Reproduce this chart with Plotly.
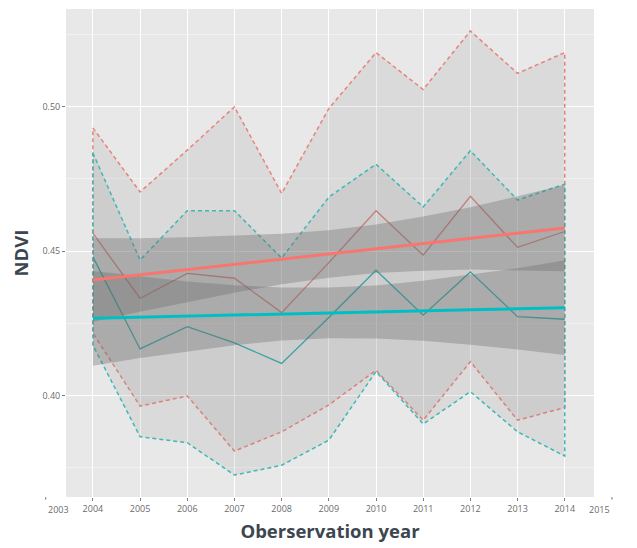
import plotly.graph_objects as go

years = [2004, 2005, 2006, 2007, 2008, 2009, 2010, 2011, 2012, 2013, 2014]

red_upper = [0.4927, 0.4705, 0.4850, 0.5000, 0.4700, 0.4994, 0.5188, 0.5060, 0.5263, 0.5116, 0.5188]
red_lower = [0.4216, 0.3963, 0.3998, 0.3807, 0.3874, 0.3967, 0.4087, 0.3914, 0.4117, 0.3914, 0.3958]
red_mean = [0.4562, 0.4336, 0.4423, 0.4406, 0.4287, 0.4460, 0.4640, 0.4486, 0.4690, 0.4513, 0.4568]

teal_upper = [0.4840, 0.4469, 0.4640, 0.4640, 0.4476, 0.4687, 0.4801, 0.4653, 0.4848, 0.4677, 0.4732]
teal_lower = [0.4174, 0.3857, 0.3836, 0.3724, 0.3758, 0.3845, 0.4083, 0.3901, 0.4013, 0.3874, 0.3790]
teal_mean = [0.4480, 0.4161, 0.4238, 0.4182, 0.4111, 0.4270, 0.4434, 0.4278, 0.4428, 0.4273, 0.4264]

red_fit = [0.4400, 0.4418, 0.4436, 0.4454, 0.4472, 0.4490, 0.4508, 0.4526, 0.4544, 0.4562, 0.4580]
red_ci_up = [0.4545, 0.4545, 0.4548, 0.4553, 0.4560, 0.4572, 0.4592, 0.4620, 0.4652, 0.4690, 0.4730]
red_ci_lo = [0.4255, 0.4290, 0.4324, 0.4356, 0.4385, 0.4408, 0.4424, 0.4432, 0.4436, 0.4434, 0.4430]

teal_fit = [0.4267, 0.4271, 0.4274, 0.4278, 0.4282, 0.4286, 0.4289, 0.4293, 0.4297, 0.4300, 0.4304]
teal_ci_up = [0.4431, 0.4412, 0.4395, 0.4382, 0.4374, 0.4374, 0.4381, 0.4397, 0.4418, 0.4441, 0.4468]
teal_ci_lo = [0.4103, 0.4130, 0.4153, 0.4174, 0.4190, 0.4198, 0.4197, 0.4189, 0.4176, 0.4159, 0.4140]

y_ticks = [0.40, 0.45, 0.50]
y_tick_labels = ["0.40", "0.45", "0.50"]
x_extra_ticks = [2003, 2015]

x_range = [2003.43, 2014.62]
y_range = [0.3648, 0.5339]

RED = "#F8766D"
TEAL = "#00BFC4"
RED_DASH = "#E8827C"
TEAL_DASH = "#3DB9B5"
RED_MEAN = "#C27F7B"
TEAL_MEAN = "#3AA3A2"

fig = go.Figure()


def ribbon(up, lo, color):
    xs = years + years[::-1] + [years[0]]
    ys = up + lo[::-1] + [up[0]]
    fig.add_trace(go.Scatter(
        x=xs, y=ys, mode="lines", fill="toself",
        fillcolor="rgba(120,120,120,0.13)",
        line=dict(color=color, width=1.5, dash="4px,3px"),
        hoverinfo="skip", showlegend=False))


ribbon(red_upper, red_lower, RED_DASH)
ribbon(teal_upper, teal_lower, TEAL_DASH)

fig.add_trace(go.Scatter(x=years, y=red_mean, mode="lines",
                         line=dict(color=RED_MEAN, width=1.3), showlegend=False))
fig.add_trace(go.Scatter(x=years, y=teal_mean, mode="lines",
                         line=dict(color=TEAL_MEAN, width=1.3), showlegend=False))


def ci(up, lo):
    xs = years + years[::-1]
    ys = up + lo[::-1]
    fig.add_trace(go.Scatter(
        x=xs, y=ys, mode="lines", fill="toself",
        fillcolor="rgba(105,105,105,0.34)", line=dict(width=0),
        hoverinfo="skip", showlegend=False))


ci(red_ci_up, red_ci_lo)
ci(teal_ci_up, teal_ci_lo)

fig.add_trace(go.Scatter(x=years, y=red_fit, mode="lines",
                         line=dict(color=RED, width=3), showlegend=False))
fig.add_trace(go.Scatter(x=years, y=teal_fit, mode="lines",
                         line=dict(color=TEAL, width=3), showlegend=False))

tick_font = dict(family="Open Sans, DejaVu Sans, sans-serif", size=9, color="#6b6b6b")
title_font = dict(family="Open Sans, DejaVu Sans, sans-serif", size=18.5, color="#3b4650")

# the page body adds an 8px offset, margins compensate for it
fig.update_layout(
    width=637, height=548,
    margin=dict(l=58, r=51, t=1, b=59),
    paper_bgcolor="white",
    plot_bgcolor="#E8E8E8",
    showlegend=False,
    xaxis=dict(
        range=x_range, tickmode="array", tickvals=years,
        ticktext=[str(y) for y in years],
        showgrid=True, gridcolor="white", gridwidth=1.2,
        zeroline=False, ticks="outside", ticklen=3, tickcolor="#7a7a7a",
        tickfont=tick_font, automargin=False,
        title=dict(text="<b>Oberservation year</b>", font=title_font, standoff=11),
    ),
    yaxis=dict(
        range=y_range, tickmode="array", tickvals=y_ticks, ticktext=y_tick_labels,
        showgrid=True, gridcolor="white", gridwidth=1.2,
        zeroline=False, ticks="outside", ticklen=3, tickcolor="#7a7a7a",
        tickfont=tick_font, automargin=False,
        minor=dict(dtick=0.025, tick0=0.375, showgrid=True, gridcolor="#F2F2F2",
                   gridwidth=0.6, ticks=""),
        title=dict(text="<b>NDVI</b>", font=title_font, standoff=12),
    ),
)

# extra year labels outside the panel (2003, 2015)
span = x_range[1] - x_range[0]
for yr in x_extra_ticks:
    px = (yr - x_range[0]) / span
    fig.add_annotation(x=px, y=0, xref="paper", yref="paper", text=str(yr),
                       showarrow=False, yanchor="top", yshift=-4,
                       font=tick_font)
    fig.add_shape(type="line", xref="paper", yref="paper", x0=px, x1=px,
                  y0=0, y1=-0.0055, line=dict(color="#7a7a7a", width=1))

fig.write_html("out.html")
